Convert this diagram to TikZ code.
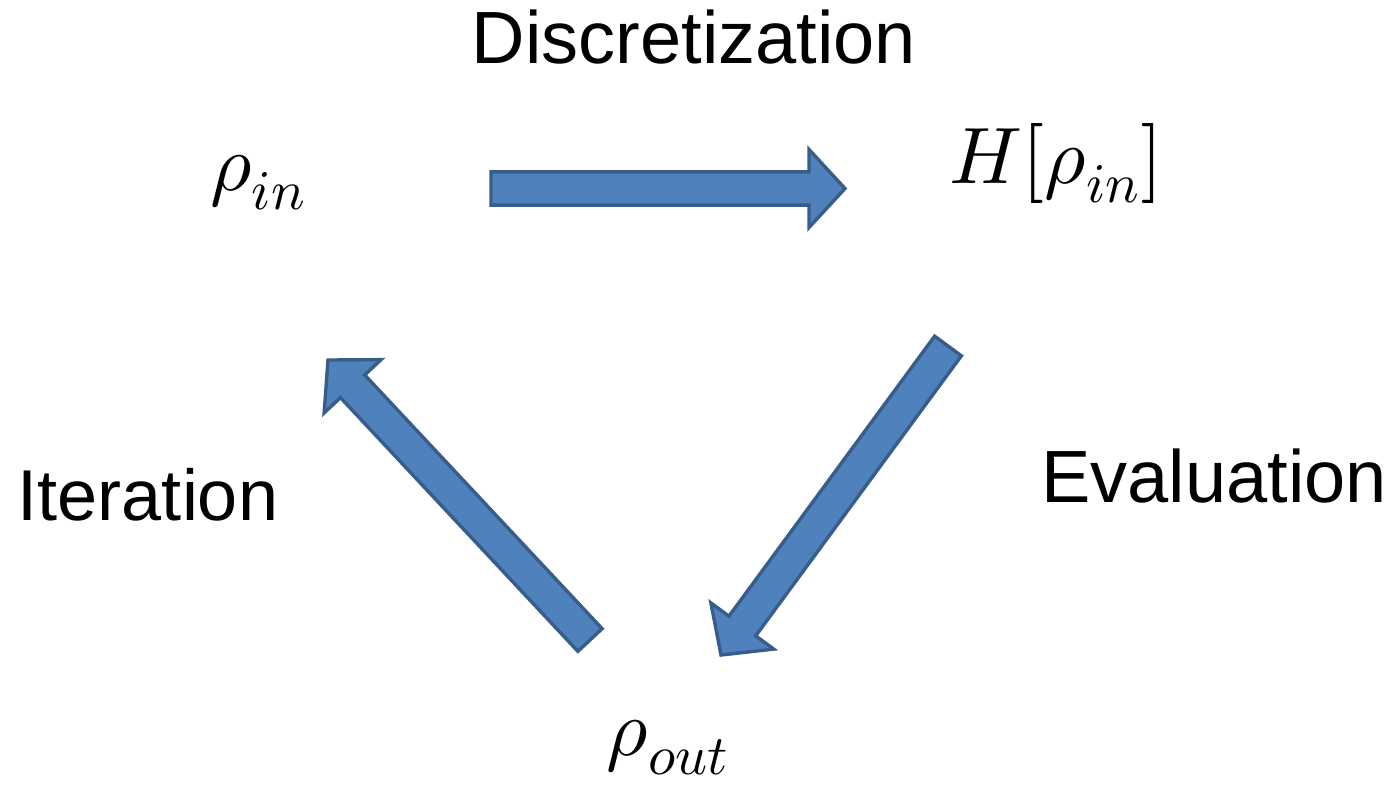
\documentclass[tikz,border=0pt]{standalone}
\usepackage{fontspec}
\usepackage{unicode-math}
\setmainfont{Liberation Sans}
\usetikzlibrary{calc}
\definecolor{afill}{HTML}{4F81BD}
\definecolor{aline}{HTML}{385D8A}
\tikzset{
  barrow/.style={fill=afill, draw=aline, line width=1.7pt, line join=miter},
  lbl/.style={font=\fontsize{37}{44}\selectfont, anchor=base, inner sep=0pt},
  mth/.style={font=\fontsize{40}{48}\selectfont, anchor=base, inner sep=0pt},
}
\newcommand\blockarrow[2]{%
  \coordinate (#1-h) at ($(#2)!18pt!(#1)$);
  \draw[barrow] ($(#1)!8.3pt!90:(#2)$) -- ($(#1-h)!8.3pt!-90:(#1)$)
    -- ($(#1-h)!19.5pt!-90:(#1)$) -- (#2) -- ($(#1-h)!19.5pt!90:(#1)$)
    -- ($(#1-h)!8.3pt!90:(#1)$) -- ($(#1)!8.3pt!-90:(#2)$) -- cycle;
}
\begin{document}
\begin{tikzpicture}[x=0.5pt,y=-0.5pt]
  \useasboundingbox (0,0) rectangle (1392,784);
  % labels
  \node[lbl] (disc) at (694,63) {Discretization};
  \node[lbl] (eval) at (1214,502) {Evaluation};
  \node[lbl, font=\fontsize{36}{43}\selectfont] (iter) at (148,520) {Iteration};
  % math nodes
  \node[mth] (rin) at (258,190) {$\rho_{in}$};
  \node[mth] (H) at (1056,183) {$H[\rho_{in}]$};
  \node[mth] (rout) at (668,755) {$\rho_{out}$};
  % arrows
  \coordinate (t1) at (491,188.5);
  \coordinate (p1) at (845,188.5);
  \coordinate (t2) at (948,346);
  \coordinate (p2) at (721,655);
  \coordinate (t3) at (590,640);
  \coordinate (p3) at (328,360);
  \blockarrow{t1}{p1}
  \blockarrow{t2}{p2}
  \blockarrow{t3}{p3}
\end{tikzpicture}
\end{document}
